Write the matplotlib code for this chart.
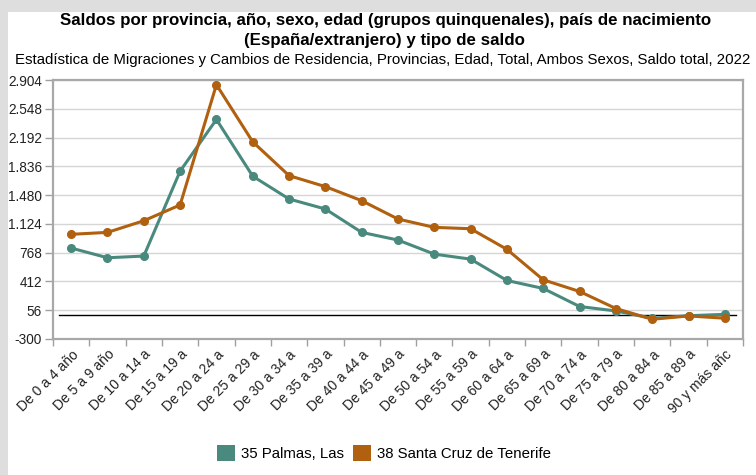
import matplotlib
matplotlib.use("Agg")
import matplotlib.pyplot as plt
from matplotlib.patches import Patch, Rectangle

categories = ["De 0 a 4 año", "De 5 a 9 año", "De 10 a 14 a", "De 15 a 19 a", "De 20 a 24 a",
              "De 25 a 29 a", "De 30 a 34 a", "De 35 a 39 a", "De 40 a 44 a", "De 45 a 49 a",
              "De 50 a 54 a", "De 55 a 59 a", "De 60 a 64 a", "De 65 a 69 a", "De 70 a 74 a",
              "De 75 a 79 a", "De 80 a 84 a", "De 85 a 89 a", "90 y más añc"]
palmas = [825, 705, 726, 1776, 2416, 1714, 1432, 1308, 1019, 924, 750, 688, 424, 325, 102, 47, -45, -12, 5]
tenerife = [995, 1019, 1163, 1358, 2846, 2139, 1721, 1585, 1411, 1184, 1081, 1064, 809, 432, 288, 77, -56, -15, -43]
ytick_values = [-300, 56, 412, 768, 1124, 1480, 1836, 2192, 2548, 2904]
ytick_labels = ["-300", "56", "412", "768", "1.124", "1.480", "1.836", "2.192", "2.548", "2.904"]
series_names = ["35 Palmas, Las", "38 Santa Cruz de Tenerife"]

teal = "#4a8a7e"
orange = "#b0600e"

plt.rcParams['font.family'] = ['Liberation Sans', 'DejaVu Sans']

fig = plt.figure(figsize=(7.56, 4.75), dpi=100)
fig.patch.set_facecolor("#dedede")
fig.patches.append(Rectangle((8 / 756, 0), 1, 1 - 12 / 475, transform=fig.transFigure,
                             facecolor="white", edgecolor="none", zorder=-10))

ax = fig.add_axes([53 / 756, 1 - 339 / 475, (743 - 53) / 756, (339 - 80) / 475])
x = list(range(len(categories)))

ax.set_xlim(-0.5, len(categories) - 0.5)
ax.set_ylim(ytick_values[0], ytick_values[-1])
ax.set_yticks(ytick_values)
ax.set_yticklabels(ytick_labels)
ax.set_xticks(x)
ax.set_xticklabels(categories, rotation=45, ha='right', va='top', rotation_mode='anchor')
ax.tick_params(axis='x', length=0, labelsize=10, pad=6, colors='#222222')
ax.set_xticks([i - 0.5 for i in range(len(categories) + 1)], minor=True)
ax.tick_params(axis='x', which='minor', length=5, color='#a0a0a0', width=1)
ax.tick_params(axis='y', length=6, color='#a0a0a0', width=1, labelsize=9.8, pad=2, colors='#222222')
ax.tick_params(axis='y', colors='#a0a0a0', labelcolor='#222222')

ax.grid(axis='y', color='#d6d6d6', linewidth=1)
ax.set_axisbelow(True)
for s in ax.spines.values():
    s.set_color('#a8a8a8')
    s.set_linewidth(1.6)

ax.axhline(0, xmin=0.008, xmax=0.99, color='black', linewidth=1, zorder=2)

ax.plot(x, palmas, color=teal, linewidth=2.2, marker='o', markersize=5.5, zorder=3)
ax.plot(x, tenerife, color=orange, linewidth=2.2, marker='o', markersize=5.5, zorder=4)

fig.text(0.51, 1 - 20 / 475, "Saldos por provincia, año, sexo, edad (grupos quinquenales), país de nacimiento",
         ha='center', va='center', fontsize=12.2, fontweight='bold')
fig.text(0.508, 1 - 40 / 475, "(España/extranjero) y tipo de saldo",
         ha='center', va='center', fontsize=12.2, fontweight='bold')
fig.text(0.506, 1 - 60 / 475,
         "Estadística de Migraciones y Cambios de Residencia, Provincias, Edad, Total, Ambos Sexos, Saldo total, 2022",
         ha='center', va='center', fontsize=10.8)

handles = [Patch(facecolor=teal, edgecolor='none'), Patch(facecolor=orange, edgecolor='none')]
fig.legend(handles, series_names, loc='center', bbox_to_anchor=(0.508, 1 - 453 / 475), ncol=2,
           frameon=False, fontsize=10.8, handlelength=1.2, handleheight=1.2, handletextpad=0.4,
           columnspacing=0.6)

fig.savefig("out.png", dpi=100, facecolor=fig.get_facecolor())
